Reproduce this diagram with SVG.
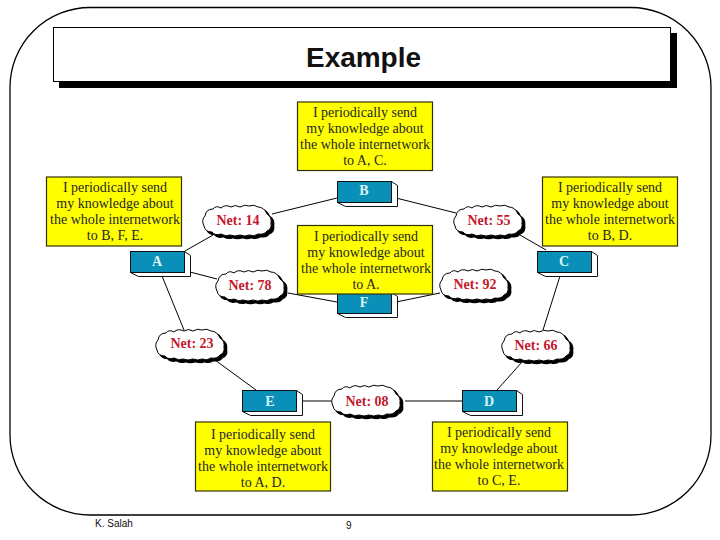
<svg xmlns="http://www.w3.org/2000/svg" width="720" height="540" viewBox="0 0 720 540">
<style>
.frame{fill:#fff;stroke:#000;stroke-width:1.3}
.title{fill:#fff;stroke:#000;stroke-width:1}
.conn line{stroke:#000;stroke-width:1}
.note{fill:#ffff00;stroke:#333300;stroke-width:1.2}
.nt{font-family:"Liberation Serif",serif;font-size:14px;fill:#262626;text-anchor:middle}
.face{fill:#0a8fb8;stroke:#111;stroke-width:1}
.side{fill:#fff;stroke:#111;stroke-width:1;stroke-linejoin:round}
.nl{font-family:"Liberation Serif",serif;font-size:14px;font-weight:bold;fill:#d8f4f4;text-anchor:middle}
.cl{fill:#fff;stroke:#000;stroke-width:1}
.cs{fill:#000;stroke:#000;stroke-width:1.500}
.ct{font-family:"Liberation Serif",serif;font-size:14px;font-weight:bold;fill:#c4182c;text-anchor:middle}
.ft{font-family:"Liberation Sans",sans-serif;font-size:10px;fill:#111}
</style>
<defs>
<path id="cloud" d="M3 12Q4 5 11 5Q14 1 19 4Q23 0 29 3Q33 0 38 3Q43 0 47 2Q52 0 56 3Q62 3 65 10Q70 13 69 19Q70 25 65 27Q62 31 56 30Q52 33 47 31Q43 33 38 31Q33 33 28 31Q24 33 19 30Q13 32 10 28Q3 28 2 22Q-1 16 3 12Z"/>
<g id="n3d">
<path class="side" d="M0 21L8 25H60V4L54 0V21Z"/>
<rect class="face" x="0" y="0" width="54" height="21"/>
</g>
</defs>
<rect class="frame" x="10" y="7.500" width="701" height="507.500" rx="80" ry="80"/>
<g id="title">
<rect x="59" y="33" width="618" height="55" fill="#000"/>
<rect class="title" x="53.500" y="27.500" width="617" height="54"/>
<text x="363.500" y="67" font-family="'Liberation Sans',sans-serif" font-size="28" font-weight="bold" text-anchor="middle" fill="#111" textLength="115">Example</text>
</g>
<g id="connectors" class="conn">
<line x1="185" y1="251" x2="213" y2="235"/>
<line x1="272" y1="214" x2="337" y2="198"/>
<line x1="396" y1="198" x2="456" y2="213"/>
<line x1="520" y1="235" x2="546" y2="250"/>
<line x1="190" y1="272" x2="217" y2="279"/>
<line x1="288" y1="293" x2="337" y2="302"/>
<line x1="396" y1="302" x2="440" y2="293"/>
<line x1="162" y1="276" x2="184" y2="330"/>
<line x1="560" y1="276" x2="543" y2="330"/>
<line x1="215" y1="360" x2="256" y2="390"/>
<line x1="522" y1="362" x2="497" y2="390"/>
<line x1="302" y1="401" x2="332" y2="401"/>
<line x1="405" y1="401" x2="462" y2="401"/>
</g>
<g id="node-A"><use href="#n3d" transform="translate(130.500,251.500)"/><text class="nl" x="157" y="266">A</text></g>
<g id="node-B"><use href="#n3d" transform="translate(337.500,181.500)"/><text class="nl" x="364" y="195">B</text></g>
<g id="node-C"><use href="#n3d" transform="translate(537.500,251.500)"/><text class="nl" x="564" y="266">C</text></g>
<g id="node-F"><use href="#n3d" transform="translate(337.500,292.500)"/><text class="nl" x="364" y="307">F</text></g>
<g id="node-E"><use href="#n3d" transform="translate(242.500,390.500)"/><text class="nl" x="270" y="406">E</text></g>
<g id="node-D"><use href="#n3d" transform="translate(462.500,390.500)"/><text class="nl" x="489" y="406">D</text></g>
<g id="note-B"><rect class="note" x="297.500" y="102" width="135" height="68.500"/><text class="nt" x="365" y="117">I periodically send</text><text class="nt" x="365" y="133">my knowledge about</text><text class="nt" x="365" y="149">the whole internetwork</text><text class="nt" x="365" y="165">to A, C.</text></g>
<g id="note-A"><rect class="note" x="46.500" y="177" width="135" height="69"/><text class="nt" x="115" y="192">I periodically send</text><text class="nt" x="115" y="208">my knowledge about</text><text class="nt" x="115" y="224">the whole internetwork</text><text class="nt" x="115" y="240">to B, F, E.</text></g>
<g id="note-C"><rect class="note" x="542.500" y="177" width="135" height="69"/><text class="nt" x="610" y="192">I periodically send</text><text class="nt" x="610" y="208">my knowledge about</text><text class="nt" x="610" y="224">the whole internetwork</text><text class="nt" x="610" y="240">to B, D.</text></g>
<g id="note-F"><rect class="note" x="297.500" y="225.500" width="135" height="68.500"/><text class="nt" x="366" y="241">I periodically send</text><text class="nt" x="366" y="257">my knowledge about</text><text class="nt" x="366" y="273">the whole internetwork</text><text class="nt" x="366" y="289">to A.</text></g>
<g id="note-E"><rect class="note" x="195.500" y="422" width="135" height="69"/><text class="nt" x="263" y="439">I periodically send</text><text class="nt" x="263" y="455">my knowledge about</text><text class="nt" x="263" y="471">the whole internetwork</text><text class="nt" x="263" y="487">to A, D.</text></g>
<g id="note-D"><rect class="note" x="432.500" y="422" width="135" height="69"/><text class="nt" x="499" y="437">I periodically send</text><text class="nt" x="499" y="453">my knowledge about</text><text class="nt" x="499" y="469">the whole internetwork</text><text class="nt" x="499" y="485">to C, E.</text></g>
<g id="net-14" transform="translate(202,204)"><use href="#cloud" class="cs" x="2.500" y="2.500"/><use href="#cloud" class="cl"/><text class="ct" x="36" y="21">Net: 14</text></g>
<g id="net-55" transform="translate(453,204)"><use href="#cloud" class="cs" x="2.500" y="2.500"/><use href="#cloud" class="cl"/><text class="ct" x="36" y="21">Net: 55</text></g>
<g id="net-78" transform="translate(215,269)"><use href="#cloud" class="cs" x="2.500" y="2.500"/><use href="#cloud" class="cl"/><text class="ct" x="35" y="21">Net: 78</text></g>
<g id="net-92" transform="translate(439,268)"><use href="#cloud" class="cs" x="2.500" y="2.500"/><use href="#cloud" class="cl"/><text class="ct" x="36" y="21">Net: 92</text></g>
<g id="net-23" transform="translate(155,328)"><use href="#cloud" class="cs" x="2.500" y="2.500"/><use href="#cloud" class="cl"/><text class="ct" x="37" y="20">Net: 23</text></g>
<g id="net-66" transform="translate(501,329)"><use href="#cloud" class="cs" x="2.500" y="2.500"/><use href="#cloud" class="cl"/><text class="ct" x="35" y="21">Net: 66</text></g>
<g id="net-08" transform="translate(331,384)"><use href="#cloud" class="cs" x="2.500" y="2.500"/><use href="#cloud" class="cl"/><text class="ct" x="36" y="22">Net: 08</text></g>
<text class="ft" x="95" y="527">K. Salah</text>
<text class="ft" x="346" y="529">9</text>
</svg>
